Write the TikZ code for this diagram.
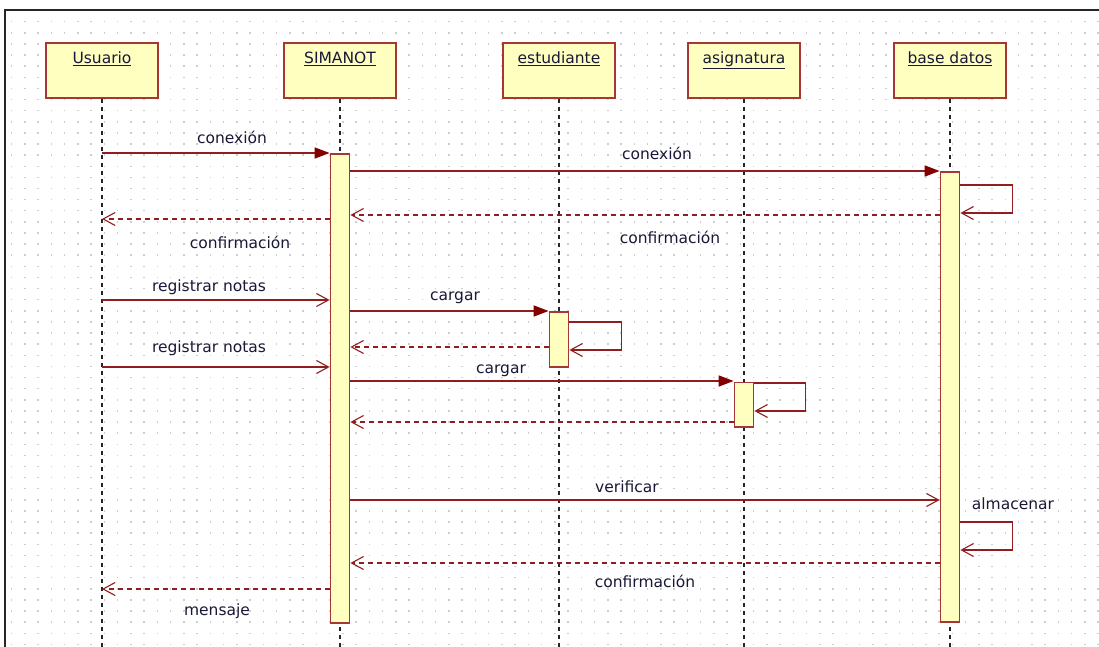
\documentclass[tikz,border=0pt]{standalone}
\usepackage{fontspec}
\setmainfont{DejaVu Sans}
\usetikzlibrary{arrows.meta}
\definecolor{boxred}{RGB}{165,55,55}
\definecolor{boxfill}{RGB}{255,255,192}
\definecolor{linered}{RGB}{145,30,30}
\definecolor{headred}{RGB}{130,0,0}
\definecolor{txt}{RGB}{25,25,55}
\definecolor{dotgray}{RGB}{205,205,205}
\tikzset{
  hdr/.style={rectangle, draw=boxred, fill=boxfill, line width=2pt,
    minimum width=112pt, minimum height=55pt, text height=16pt, text depth=29pt,
    inner sep=5pt, text=txt, font=\fontsize{15.5}{18}\selectfont},
  lifeline/.style={draw=black!85, line width=1.8pt, dash pattern=on 4pt off 4pt},
  actbar/.style={rectangle, draw=boxred, fill=boxfill, line width=1.8pt,
    minimum width=19pt, inner sep=0pt, anchor=north},
  callmsg/.style={draw=linered, line width=1.7pt, -{Triangle[length=15pt,width=11pt,fill=headred,color=headred]}},
  openmsg/.style={draw=linered, line width=1.7pt, -{Straight Barb[length=12pt,width=13pt,line width=1.1pt]}},
  replymsg/.style={draw=linered, line width=1.7pt, dash pattern=on 5pt off 4pt,
    -{Straight Barb[length=12pt,width=13pt,line width=1.1pt]}},
  lbl/.style={text=txt, font=\fontsize{15.5}{18}\selectfont, inner sep=0pt}
}
\begin{document}
\begin{tikzpicture}[x=1pt,y=-1pt]
\useasboundingbox (0,0) rectangle (1099,647);
\fill[white] (0,0) rectangle (1099,647);
% dotted grid
\foreach \i in {0,...,82}{
  \foreach \j in {0,...,56}{
    \fill[dotgray] ({11.7+13.25*\i-0.75},{21.7+11.12*\j-0.75}) rectangle ++(1.5,1.5);
  }
}
% frame
\draw[line width=2.4pt, black!85] (1099,10) -- (5,10) -- (5,647);

% headers
\node[hdr] (u) at (102,70.5) {\underline{Usuario}};
\node[hdr] (s) at (340,70.5) {\underline{SIMANOT}};
\node[hdr] (e) at (559,70.5) {\underline{estudiante}};
\node[hdr] (a) at (744,70.5) {\underline{asignatura}};
\node[hdr] (b) at (950,70.5) {\underline{base datos}};

\coordinate (bottom) at (0,647);
\foreach \n in {u,s,e,a,b}{
  \draw[lifeline] (\n.south) -- (\n.south |- bottom);
}

% activation bars
\node[actbar, minimum height=469pt] (sb) at (340,153) {};
\node[actbar, minimum height=55pt] (eb) at (559,311) {};
\node[actbar, minimum height=44.5pt] (ab) at (744,381.5) {};
\node[actbar, minimum height=450pt] (bb) at (950,171) {};

% message levels
\coordinate (m1) at (0,153);
\coordinate (m2) at (0,171);
\coordinate (m3a) at (0,185);
\coordinate (m3b) at (0,213);
\coordinate (m4) at (0,215);
\coordinate (m5) at (0,219);
\coordinate (m6) at (0,300);
\coordinate (m7) at (0,311);
\coordinate (m8a) at (0,322);
\coordinate (m8b) at (0,350);
\coordinate (m9) at (0,347);
\coordinate (m10) at (0,367);
\coordinate (m11) at (0,381);
\coordinate (m12a) at (0,383);
\coordinate (m12b) at (0,411);
\coordinate (m13) at (0,422);
\coordinate (m14) at (0,500);
\coordinate (m15a) at (0,522);
\coordinate (m15b) at (0,550);
\coordinate (m16) at (0,563);
\coordinate (m17) at (0,589);

\draw[callmsg] (u |- m1) -- (sb.west |- m1);
\draw[callmsg] (sb.east |- m2) -- (bb.west |- m2);
\draw[openmsg] (bb.east |- m3a) -- ++(52,0) |- (bb.east |- m3b);
\draw[replymsg] (bb.west |- m4) -- (sb.east |- m4);
\draw[replymsg] (sb.west |- m5) -- (u |- m5);
\draw[openmsg] (u |- m6) -- (sb.west |- m6);
\draw[callmsg] (sb.east |- m7) -- (eb.west |- m7);
\draw[openmsg] (eb.east |- m8a) -- ++(52,0) |- (eb.east |- m8b);
\draw[replymsg] (eb.west |- m9) -- (sb.east |- m9);
\draw[openmsg] (u |- m10) -- (sb.west |- m10);
\draw[callmsg] (sb.east |- m11) -- (ab.west |- m11);
\draw[openmsg] (ab.east |- m12a) -- ++(51,0) |- (ab.east |- m12b);
\draw[replymsg] (ab.west |- m13) -- (sb.east |- m13);
\draw[openmsg] (sb.east |- m14) -- (bb.west |- m14);
\draw[openmsg] (bb.east |- m15a) -- ++(52,0) |- (bb.east |- m15b);
\draw[replymsg] (bb.west |- m16) -- (sb.east |- m16);
\draw[replymsg] (sb.west |- m17) -- (u |- m17);

% labels
\node[lbl] (l1) at (232,137) {conexión};
\node[lbl] (l2) at (657,153) {conexión};
\node[lbl] (l3) at (670,237) {confirmación};
\node[lbl] (l4) at (240,242) {confirmación};
\node[lbl] (l5) at (209,287) {registrar notas};
\node[lbl] (l6) at (455,298) {cargar};
\node[lbl] (l7) at (209,348) {registrar notas};
\node[lbl] (l8) at (501,371) {cargar};
\node[lbl] (l9) at (627,487) {verificar};
\node[lbl] (l10) at (1013,504) {almacenar};
\node[lbl] (l11) at (645,581) {confirmación};
\node[lbl] (l12) at (217,611) {mensaje};
\end{tikzpicture}
\end{document}
